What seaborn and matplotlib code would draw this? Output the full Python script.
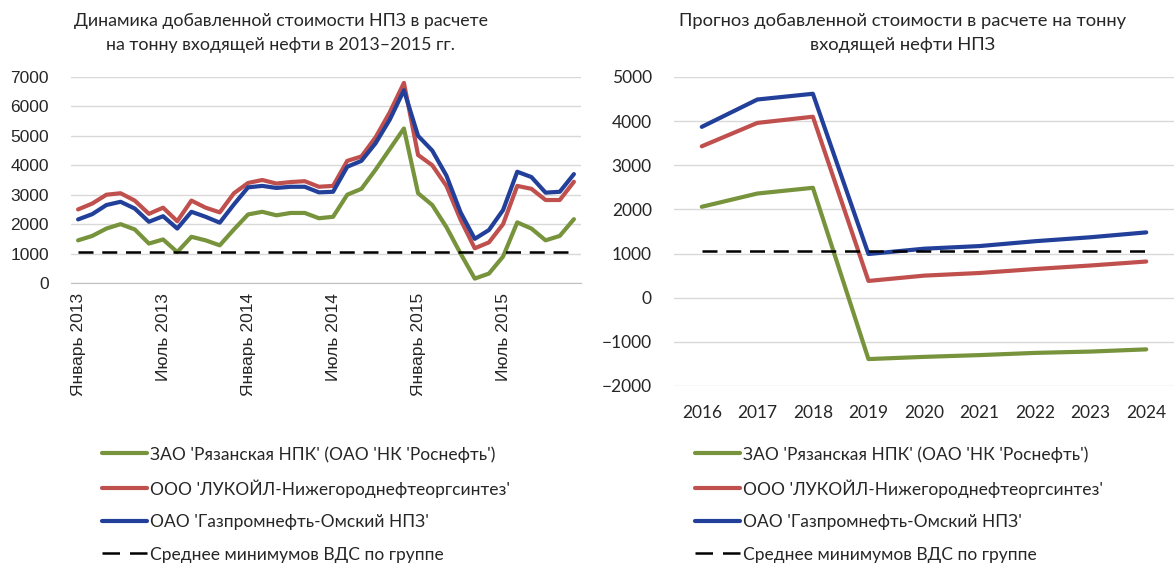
import numpy as np
import pandas as pd
import seaborn as sns
import matplotlib.pyplot as plt
from matplotlib.lines import Line2D

# данные: динамика по месяцам 2013-2015
months = pd.date_range("2013-01-01", "2015-12-01", freq="MS")
month_ticks = ["Январь 2013", "Июль 2013", "Январь 2014", "Июль 2014", "Январь 2015", "Июль 2015"]

ryazan_hist = [1450, 1600, 1850, 2000, 1820, 1340, 1480, 1050, 1570, 1450, 1280, 1820,
               2330, 2420, 2300, 2380, 2380, 2200, 2250, 3000, 3200, 3850, 4550, 5250,
               3050, 2650, 1900, 1000, 150, 320, 900, 2060, 1850, 1450, 1600, 2170]
lukoil_hist = [2500, 2700, 3000, 3050, 2800, 2350, 2560, 2100, 2800, 2560, 2400, 3050,
               3400, 3500, 3380, 3430, 3460, 3270, 3300, 4150, 4300, 4950, 5800, 6800,
               4350, 4000, 3300, 2150, 1180, 1380, 2000, 3300, 3200, 2820, 2820, 3440]
omsk_hist = [2160, 2340, 2650, 2760, 2530, 2080, 2270, 1850, 2420, 2250, 2050, 2670,
             3250, 3300, 3230, 3270, 3270, 3080, 3100, 3950, 4150, 4750, 5550, 6550,
             5000, 4500, 3650, 2400, 1500, 1800, 2480, 3780, 3600, 3070, 3100, 3700]

# прогноз 2016-2024
years = [2016, 2017, 2018, 2019, 2020, 2021, 2022, 2023, 2024]
ryazan_fc = [2060, 2360, 2490, -1390, -1340, -1300, -1250, -1220, -1170]
lukoil_fc = [3430, 3960, 4100, 380, 500, 560, 650, 730, 820]
omsk_fc = [3870, 4490, 4620, 990, 1110, 1170, 1280, 1370, 1480]

avg_min = 1050  # среднее минимумов ВДС по группе

names = ["ЗАО 'Рязанская НПК' (ОАО 'НК 'Роснефть')",
         "ООО 'ЛУКОЙЛ-Нижегороднефтеоргсинтез'",
         "ОАО 'Газпромнефть-Омский НПЗ'",
         "Среднее минимумов ВДС по группе"]
colors = ["#77933C", "#C0504D", "#22409A"]

sns.set_style("white")
plt.rcParams['font.family'] = ['Lato', 'Open Sans', 'DejaVu Sans']

fig = plt.figure(figsize=(11.74, 5.63), dpi=100)
W, H = 1174, 563
ax1 = fig.add_axes([71 / W, 1 - 283 / H, (581 - 71) / W, (283 - 77) / H])
ax2 = fig.add_axes([674 / W, 1 - 386 / H, (1174 - 674) / W, (386 - 77) / H])

grid_c = "#D9D9D9"
lw = 3.0
dash = (6, 3.5)

# ---- левый график
x1 = np.arange(len(months))
for vals, c, n in zip([ryazan_hist, lukoil_hist, omsk_hist], colors, names):
    sns.lineplot(x=x1, y=vals, ax=ax1, color=c, linewidth=lw, label=n, legend=False)
ax1.hlines(avg_min, x1[0], x1[-1], colors="black", linewidth=1.8, linestyles=[(0, dash)])

ax1.set_xlim(-0.5, len(months) - 0.5)
ax1.set_ylim(0, 7000)
ax1.set_yticks(range(0, 7001, 1000))
ax1.set_xticks(x1[::6])
ax1.set_xticklabels(month_ticks, rotation=90, fontsize=12.5, family=['Liberation Sans', 'DejaVu Sans'])
ax1.set_xticks(np.arange(-0.5, len(months), 6), minor=True)
ax1.tick_params(axis='x', which='major', length=0, pad=7)
ax1.tick_params(axis='x', which='minor', length=5, color="#BFBFBF", width=1, direction='out')
ax1.tick_params(axis='y', length=0, pad=16)
for t in ax1.get_yticklabels():
    t.set_fontsize(12.5)
    t.set_family(['Liberation Sans', 'DejaVu Sans'])
ax1.grid(axis='y', color=grid_c, linewidth=1)
for s in ["top", "right", "left"]:
    ax1.spines[s].set_visible(False)
ax1.spines["bottom"].set_color("#BFBFBF")

# ---- правый график
x2 = np.arange(len(years))
for vals, c, n in zip([ryazan_fc, lukoil_fc, omsk_fc], colors, names):
    sns.lineplot(x=x2, y=vals, ax=ax2, color=c, linewidth=lw, label=n, legend=False)
ax2.hlines(avg_min, x2[0], x2[-1], colors="black", linewidth=1.8, linestyles=[(0, dash)])

ax2.set_xlim(-0.5, len(years) - 0.5)
ax2.set_ylim(-2000, 5000)
ax2.set_yticks(range(-2000, 5001, 1000))
ax2.set_xticks(x2)
ax2.set_xticklabels([str(y) for y in years], fontsize=12.5)
ax2.tick_params(axis='x', length=0, pad=14)
ax2.tick_params(axis='y', length=0, pad=16, labelsize=12.5)
ax2.grid(axis='y', color=grid_c, linewidth=1)
for s in ax2.spines.values():
    s.set_visible(False)

# ---- заголовки
fig.text(281 / W, 1 - 33 / H, "Динамика добавленной стоимости НПЗ в расчете\nна тонну входящей нефти в 2013–2015 гг.",
         ha="center", va="center", fontsize=12.8, linespacing=1.6)
fig.text(903 / W, 1 - 33 / H, "Прогноз добавленной стоимости в расчете на тонну\nвходящей нефти НПЗ",
         ha="center", va="center", fontsize=13.2, linespacing=1.55)

# ---- легенды
handles = [Line2D([], [], color=c, linewidth=lw) for c in colors]
handles.append(Line2D([], [], color="black", linewidth=1.8, linestyle=(0, (7, 4))))
for ax, x0 in [(ax1, 102), (ax2, 695)]:
    ax.legend(handles, names, loc="upper left", bbox_to_anchor=(x0 / W, 1 - 446 / H),
              bbox_transform=fig.transFigure, frameon=False, fontsize=12.5,
              handlelength=2.6, handletextpad=0.15, labelspacing=0.95,
              borderpad=0, borderaxespad=0)

fig.savefig("out.png", dpi=100)
